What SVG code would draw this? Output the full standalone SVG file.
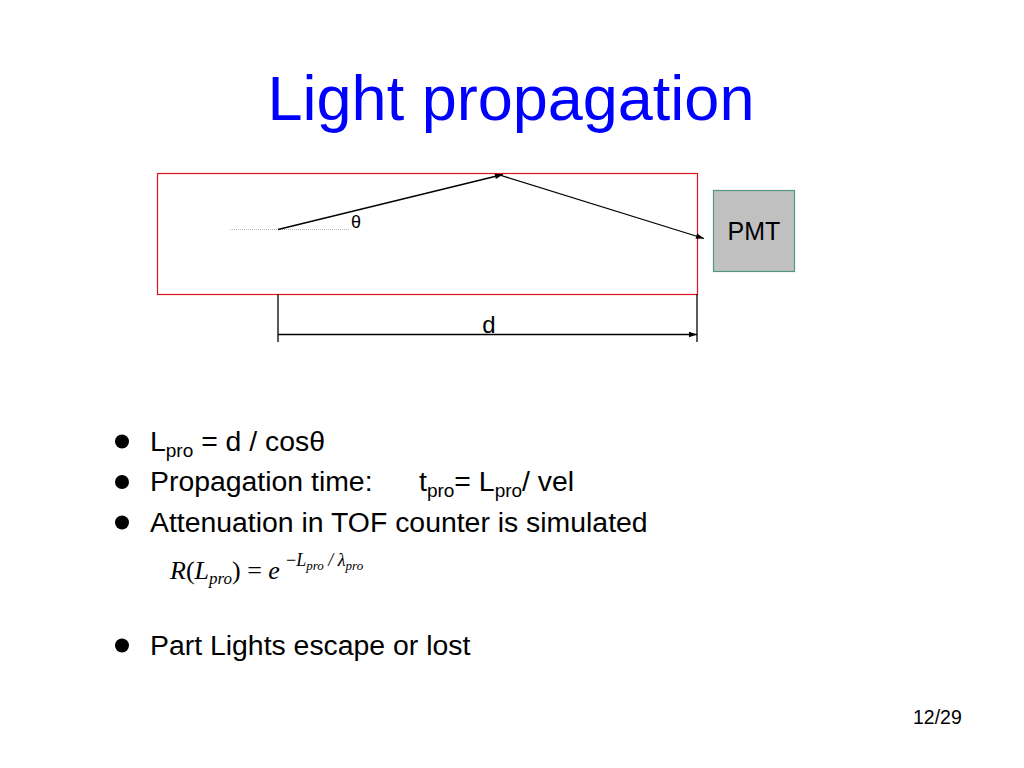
<svg xmlns="http://www.w3.org/2000/svg" width="1024" height="768" viewBox="0 0 1024 768">
<style>
.sans{font-family:"Liberation Sans",Arial,sans-serif;fill:#000}
.body{font-size:28.4px}
.sub{font-size:19px}
.math{font-family:"Liberation Serif","Times New Roman",serif;font-style:italic;fill:#000}
.ln{stroke:#000;stroke-width:1.3;fill:none}
</style>
<defs>
<marker id="ah" viewBox="0 0 10 10" refX="10" refY="5" markerWidth="9" markerHeight="8" markerUnits="userSpaceOnUse" orient="auto">
<path d="M0,1.5 L10,5 L0,8.5 z" fill="#000"/>
</marker>
</defs>
<rect width="1024" height="768" fill="#fff"/>
<text class="sans" x="511" y="120" font-size="63" style="fill:#0000ff" text-anchor="middle">Light propagation</text>

<g id="counter">
<rect x="157.5" y="173.5" width="540" height="121" fill="none" stroke="#e0141e" stroke-width="1.2"/>
</g>
<g id="pmt">
<rect x="713.5" y="190.5" width="81" height="81" fill="#c0c0c0" stroke="#4f9a78" stroke-width="1.2"/>
<text class="sans" x="754" y="240" font-size="25" text-anchor="middle">PMT</text>
</g>
<g id="connectors">
<line x1="230" y1="229.5" x2="350" y2="229.5" stroke="#b8b8b8" stroke-width="1.2" stroke-dasharray="1,1"/>
<line class="ln" x1="278" y1="229.5" x2="503" y2="174.5" marker-end="url(#ah)"/>
<line class="ln" x1="498" y1="174.5" x2="704" y2="238.5" marker-end="url(#ah)"/>
<line class="ln" x1="278" y1="294" x2="278" y2="342" stroke-width="1"/>
<line class="ln" x1="697" y1="294" x2="697" y2="342" stroke-width="1"/>
<line class="ln" x1="278" y1="334.5" x2="697" y2="334.5" marker-end="url(#ah)"/>
</g>
<text class="sans" x="351" y="228" font-size="18">θ</text>
<text class="sans" x="489" y="333" font-size="24" text-anchor="middle">d</text>

<g id="bullets">
<circle cx="122" cy="441.5" r="7"/>
<circle cx="122" cy="482" r="7"/>
<circle cx="122" cy="522.5" r="7"/>
<circle cx="122" cy="645.5" r="7"/>
<text class="sans body" x="150" y="451">L<tspan class="sub" dy="6">pro</tspan><tspan dy="-6"> = d / cosθ</tspan></text>
<text class="sans body" x="150" y="491">Propagation time:</text>
<text class="sans body" x="419" y="491">t<tspan class="sub" dy="6">pro</tspan><tspan dy="-6">= L</tspan><tspan class="sub" dy="6">pro</tspan><tspan dy="-6">/ vel</tspan></text>
<text class="sans body" x="150" y="532">Attenuation in TOF counter is simulated</text>
<text class="sans body" x="150" y="655">Part Lights escape or lost</text>
</g>

<g id="formula">
<text class="math" x="170" y="579" font-size="26">R<tspan font-style="normal">(</tspan>L<tspan font-size="17" dy="5">pro</tspan><tspan font-style="normal" dy="-5">) = </tspan>e</text>
<text class="math" x="286" y="566" font-size="18"><tspan font-style="normal">−</tspan>L<tspan font-size="13" dy="4">pro</tspan><tspan dy="-4"> / </tspan>λ<tspan font-size="13" dy="4">pro</tspan></text>
</g>

<text class="sans" x="913" y="724" font-size="19.5">12/29</text>
</svg>
